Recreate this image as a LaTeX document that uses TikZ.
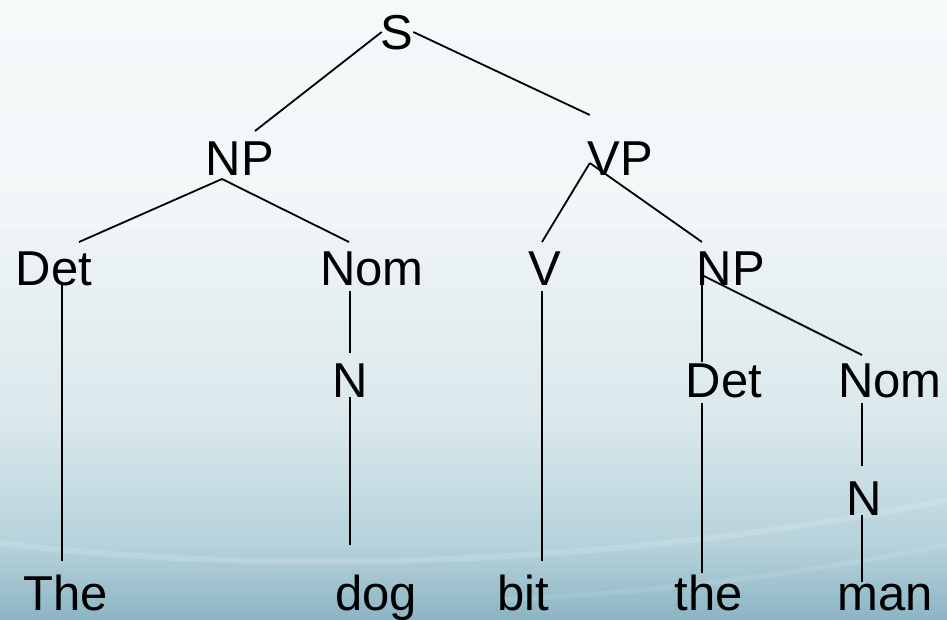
\documentclass[tikz,border=0pt]{standalone}
\usepackage{fontspec}
\setmainfont{Liberation Sans}
\begin{document}
\begin{tikzpicture}[x=1pt,y=-1pt,
  lbl/.style={anchor=base,inner sep=0pt,outer sep=0pt,text height=36pt,text depth=0pt,font=\fontsize{49}{49}\selectfont},
  br/.style={line width=1.8pt,black}]
% background
\useasboundingbox (0,0) rectangle (947,620);
\fill[top color={rgb,255:red,244;green,249;blue,250},bottom color={rgb,255:red,241;green,246;blue,248}] (0,0) rectangle (947,230);
\fill[top color={rgb,255:red,238;green,244;blue,246},bottom color={rgb,255:red,218;green,232;blue,236}] (0,230) rectangle (947,420);
\fill[top color={rgb,255:red,218;green,232;blue,236},bottom color={rgb,255:red,182;green,210;blue,219}] (0,420) rectangle (947,545);
\fill[top color={rgb,255:red,182;green,210;blue,219},bottom color={rgb,255:red,140;green,180;blue,196}] (0,545) rectangle (947,620);
\draw[white,opacity=0.15,line width=6pt] (0,543) .. controls (300,580) and (650,560) .. (947,500);
\draw[white,opacity=0.1,line width=5pt] (500,600) .. controls (700,590) and (850,565) .. (947,545);
% nodes
\node[lbl] (S) at (397,50) {S};
\node[lbl] (NP) at (240,176) {NP};
\node[lbl] (VP) at (620,176) {VP};
\node[lbl] (Det) at (54,285) {Det};
\node[lbl] (Nom) at (372,285) {Nom};
\node[lbl] (V) at (545,285) {V};
\node[lbl] (NPb) at (731,285) {NP};
\node[lbl] (N) at (350,397) {N};
\node[lbl] (Detb) at (724,397) {Det};
\node[lbl] (Nomb) at (890,397) {Nom};
\node[lbl] (Nb) at (864,515) {N};
\node[lbl] (The) at (66,610) {The};
\node[lbl] (dog) at (376,610) {dog};
\node[lbl] (bit) at (523,610) {bit};
\node[lbl] (the) at (709,610) {the};
\node[lbl] (man) at (885,610) {man};
% branches
\draw[br] ([xshift=1pt]S.west) -- ([xshift=15pt,yshift=9pt]NP.north);
\draw[br] (S.east) -- ([xshift=2.5pt,yshift=25pt]VP.north west);
\draw[br] ([xshift=-18pt,yshift=-3pt]NP.south) -- ([xshift=25pt,yshift=7pt]Det.north);
\draw[br] ([xshift=-18pt,yshift=-3pt]NP.south) -- ([xshift=-23pt,yshift=7pt]Nom.north);
\draw[br] ([xshift=2.5pt,yshift=13pt]VP.south west) -- ([xshift=-3pt,yshift=7pt]V.north);
\draw[br] ([xshift=2.5pt,yshift=13pt]VP.south west) -- ([xshift=5pt,yshift=7pt]NPb.north west);
\draw[br] ([xshift=8pt,yshift=3pt]Det.south) -- ([xshift=-4pt,yshift=13pt]The.north);
\draw[br] ([xshift=-22pt,yshift=-6pt]Nom.south) -- ([yshift=8pt]N.north);
\draw[br] (N.south) -- ([xshift=-26pt,yshift=29pt]dog.north);
\draw[br] ([xshift=-3pt,yshift=-6pt]V.south) -- ([xshift=19pt,yshift=13pt]bit.north);
\draw[br] ([xshift=5pt,yshift=10pt]NPb.south west) -- ([xshift=-22pt,yshift=-1pt]Detb.north);
\draw[br] ([xshift=-22pt,yshift=-6pt]Detb.south) -- ([xshift=-7pt,yshift=1pt]the.north);
\draw[br] ([xshift=5pt,yshift=10pt]NPb.south west) -- ([xshift=-28pt,yshift=6pt]Nomb.north);
\draw[br] ([xshift=-28pt,yshift=-6pt]Nomb.south) -- ([xshift=-2pt,yshift=13pt]Nb.north);
\draw[br] ([xshift=-2pt]Nb.south) -- ([xshift=-23pt,yshift=-8pt]man.north);
\end{tikzpicture}
\end{document}
